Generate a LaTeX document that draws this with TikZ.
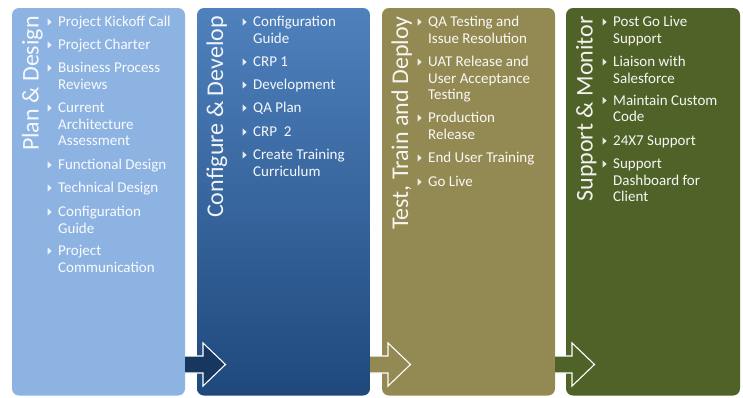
\documentclass[tikz,border=0pt]{standalone}
\usepackage{fontspec}
\setmainfont{Carlito}
\usetikzlibrary{calc}

\definecolor{planblue}{HTML}{8DB3E2}
\definecolor{devtop}{HTML}{4F81BD}
\definecolor{devbottom}{HTML}{1F497D}
\definecolor{devarrow}{HTML}{17375E}
\definecolor{testtan}{HTML}{938953}
\definecolor{supportgreen}{HTML}{4F6228}

\tikzset{
  panel/.style={rectangle, rounded corners=7pt, draw=none, outer sep=0pt,
    inner sep=0pt, minimum width=173pt, minimum height=387.5pt, anchor=north west},
  phasetitle/.style={rotate=90, anchor=base east, inner sep=0pt, text=white,
    text opacity=0.92, font=\fontsize{24}{28}\selectfont},
  item/.style={anchor=north west, inner sep=0pt, align=left, text=white,
    text opacity=0.95, font=\fontsize{15}{16.3}\selectfont},
  bulletmark/.style={fill=white, fill opacity=0.85},
  flowfill/.style={draw=none},
  flowedge/.style={draw=white, line width=1.1pt, line join=miter},
}

% one bullet point: name, text x, first baseline y, text
% (an invisible 12pt strut fixes the top of the first line)
\newcommand\phaseitem[4]{%
  \fill[bulletmark] (#2-10.5,#3-8.2) -- (#2-6.3,#3-4.5) -- (#2-10.5,#3-0.8) -- cycle;
  \node[item] (#1) at (#2,#3-12) {\rule{0pt}{12pt}#4};
}

% block arrow from the right edge of one panel into the next
\newcommand\flowarrow[3]{%
  \path[flowfill, fill=#3]
    ($(#1.east |- row)+(0,-8.5)$) -- ($(#2.west |- row)+(6,-8.5)$)
    -- ($(#2.west |- row)+(6,-21.5)$) -- ($(#2.west |- row)+(28.5,0)$)
    -- ($(#2.west |- row)+(6,21.5)$) -- ($(#2.west |- row)+(6,8.5)$)
    -- ($(#1.east |- row)+(0,8.5)$) -- cycle;
  \draw[flowedge]
    ($(#1.east |- row)+(0,-8.5)$) -- ($(#2.west |- row)+(6,-8.5)$)
    -- ($(#2.west |- row)+(6,-21.5)$) -- ($(#2.west |- row)+(28.5,0)$)
    -- ($(#2.west |- row)+(6,21.5)$) -- ($(#2.west |- row)+(6,8.5)$)
    -- ($(#1.east |- row)+(0,8.5)$);
}

\begin{document}
\begin{tikzpicture}[x=1pt, y=-1pt]
\useasboundingbox (0,0) rectangle (743,397);
\fill[white] (0,0) rectangle (743,397);

% phase panels
\node[panel, fill=planblue] (p1) at (12,8) {};
\node[panel, top color=devtop, bottom color=devbottom] (p2) at (197,8) {};
\node[panel, fill=testtan] (p3) at (382,8) {};
\node[panel, fill=supportgreen, minimum width=174pt] (p4) at (566,8) {};

% arrows between phases
\coordinate (row) at (0,364.5);
\flowarrow{p1}{p2}{devarrow}
\flowarrow{p2}{p3}{testtan}
\flowarrow{p3}{p4}{supportgreen}

% phase titles
\node[phasetitle] (t1) at ($(p1.north west)+(26.5,8)$) {Plan \& Design};
\node[phasetitle] (t2) at ($(p2.north west)+(26,8)$) {Configure \& Develop};
\node[phasetitle] (t3) at ($(p3.north west)+(26,8)$) {Test, Train and Deploy};
\node[phasetitle] (t4) at ($(p4.north west)+(26.5,8)$) {Support \& Monitor};

% Plan & Design
\phaseitem{a1}{58}{26.5}{Project Kickoff Call}
\phaseitem{a2}{58}{49.5}{Project Charter}
\phaseitem{a3}{58}{72.5}{Business Process\\Reviews}
\phaseitem{a4}{58}{112.5}{Current\\Architecture\\Assessment}
\phaseitem{a5}{58}{169.5}{Functional Design}
\phaseitem{a6}{58}{192.5}{Technical Design}
\phaseitem{a7}{58}{216.5}{Configuration\\Guide}
\phaseitem{a8}{58}{255.5}{Project\\Communication}

% Configure & Develop
\phaseitem{b1}{253}{26.5}{Configuration\\Guide}
\phaseitem{b2}{253}{66.5}{CRP 1}
\phaseitem{b3}{253}{89.5}{Development}
\phaseitem{b4}{253}{112.5}{QA Plan}
\phaseitem{b5}{253}{136.5}{CRP\ \ 2}
\phaseitem{b6}{253}{159.5}{Create Training\\Curriculum}

% Test, Train and Deploy
\phaseitem{c1}{428}{26.5}{QA Testing and\\Issue Resolution}
\phaseitem{c2}{428}{66.5}{UAT Release and\\User Acceptance\\Testing}
\phaseitem{c3}{428}{122.5}{Production\\Release}
\phaseitem{c4}{428}{162.5}{End User Training}
\phaseitem{c5}{428}{186.5}{Go Live}

% Support & Monitor
\phaseitem{d1}{613}{26.5}{Post Go Live\\Support}
\phaseitem{d2}{613}{66.5}{Liaison with\\Salesforce}
\phaseitem{d3}{613}{105}{Maintain Custom\\Code}
\phaseitem{d4}{613}{145.5}{24X7 Support}
\phaseitem{d5}{613}{168.5}{Support\\Dashboard for\\Client}
\end{tikzpicture}
\end{document}
